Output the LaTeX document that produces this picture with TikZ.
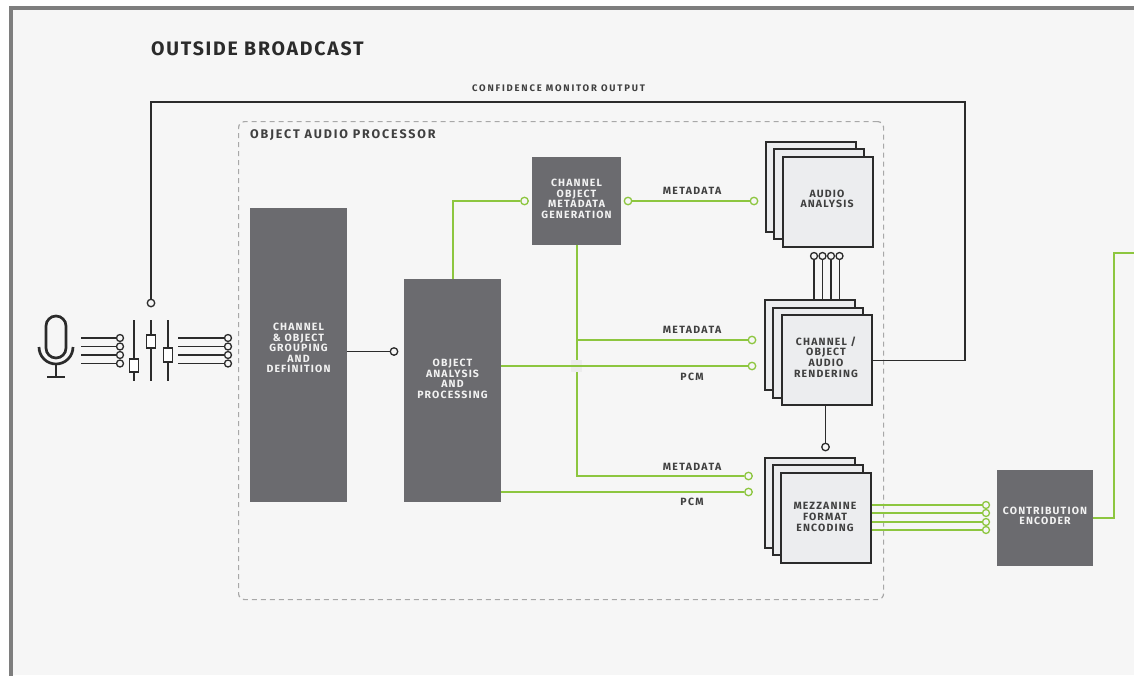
\documentclass[tikz,border=0pt]{standalone}
\usepackage{fontspec}
\setmainfont{Fira Sans}
\newfontfamily\lblfont{Fira Sans}[LetterSpace=11]
\newfontfamily\linefont{Fira Sans}[LetterSpace=13]
\newfontfamily\cmofont{Fira Sans}[LetterSpace=19]
\newfontfamily\ttlfont{Fira Sans}[LetterSpace=9]
\newfontfamily\oapfont{Fira Sans}[LetterSpace=15]
\definecolor{bggray}{HTML}{F6F6F6}
\definecolor{framegray}{HTML}{7E7E7E}
\definecolor{boxgray}{HTML}{6B6B6F}
\definecolor{stackfill}{HTML}{ECEDEF}
\definecolor{lime}{HTML}{8DC63F}
\definecolor{ink}{HTML}{2B2B2B}
\definecolor{dashgray}{HTML}{A8A8A8}
\definecolor{bridgegray}{HTML}{EDEDED}
\definecolor{whitetext}{HTML}{F2F2F2}
\begin{document}
\begin{tikzpicture}[x=1pt,y=-1pt,
  darkbox/.style={fill=boxgray, inner sep=0, anchor=north west},
  stackbox/.style={fill=stackfill, draw=ink, line width=2.4pt, inner sep=0, anchor=north west, minimum width=90pt, minimum height=90pt},
  wtext/.style={text=whitetext, font=\lblfont\bfseries\fontsize{10.5}{10.6}\selectfont, align=center, inner sep=0},
  dtext/.style={text=ink!90, font=\lblfont\bfseries\fontsize{10.5}{10.6}\selectfont, align=center, inner sep=0},
  linelabel/.style={text=ink!90, font=\linefont\bfseries\fontsize{10.5}{11}\selectfont, inner sep=0},
  gport/.style={circle, draw=lime, fill=bggray, line width=1.3pt, minimum size=7.5pt, inner sep=0},
  kport/.style={circle, draw=ink, fill=bggray, line width=1.3pt, minimum size=7.5pt, inner sep=0},
  gline/.style={draw=lime, line width=1.8pt},
  kline/.style={draw=ink, line width=1.4pt},
  iconline/.style={draw=ink, line width=2.7pt}
]
\useasboundingbox (0,0) rectangle (1134,675);
% background and frame
\fill[white] (0,0) rectangle (1134,675);
\fill[bggray] (11,8) rectangle (1134,675);
\draw[framegray, line width=3.5pt] (11,677) -- (11,8) -- (1136,8);

% titles
\node[anchor=west, text=ink, font=\ttlfont\bfseries\fontsize{19.5}{22}\selectfont, inner sep=0] (title) at (151,48.5) {OUTSIDE BROADCAST};
\node[text=ink!90, font=\cmofont\bfseries\fontsize{9.5}{10}\selectfont, inner sep=0] (cmolabel) at (558.5,88.5) {CONFIDENCE MONITOR OUTPUT};

% object audio processor frame
\node[draw=dashgray, dash pattern=on 5pt off 4pt, line width=1.2pt, rounded corners=6pt, minimum width=645pt, minimum height=478pt, inner sep=0, anchor=north west] (oapframe) at (238,121) {};
\node[anchor=west, text=ink!90, font=\oapfont\bfseries\fontsize{12.5}{14}\selectfont, inner sep=0] (oaplabel) at (250,135.5) {OBJECT AUDIO PROCESSOR};

% dark blocks
\node[darkbox, minimum width=97pt, minimum height=294pt] (grp) at (250,208) {};
\node[wtext] (grpT) at (298.5,348) {CHANNEL\\\& OBJECT\\GROUPING\\AND\\DEFINITION};
\node[darkbox, minimum width=97pt, minimum height=223pt] (oap) at (404,279) {};
\node[wtext] (oapT) at (452.5,379) {OBJECT\\ANALYSIS\\AND\\PROCESSING};
\node[darkbox, minimum width=89pt, minimum height=88pt] (cmg) at (532,157) {};
\node[wtext] (cmgT) at (576.5,199) {CHANNEL\\OBJECT\\METADATA\\GENERATION};
\node[darkbox, minimum width=96pt, minimum height=96pt] (enc) at (997,470) {};
\node[wtext] (encT) at (1045,516) {CONTRIBUTION\\ENCODER};

% stacked boxes
\node[stackbox] (aab) at (765,141) {};
\node[stackbox] (aam) at (773,148) {};
\node[stackbox] (aa) at (782,156) {};
\node[dtext] (aaT) at (827,199) {AUDIO\\ANALYSIS};
\node[stackbox] (renb) at (764,299) {};
\node[stackbox] (renm) at (772,307) {};
\node[stackbox] (ren) at (781,314) {};
\node[dtext] (renT) at (826,357) {CHANNEL /\\OBJECT\\AUDIO\\RENDERING};
\node[stackbox] (mezb) at (764,457) {};
\node[stackbox] (mezm) at (772,464) {};
\node[stackbox] (mez) at (780,472) {};
\node[dtext] (mezT) at (825,517) {MEZZANINE\\FORMAT\\ENCODING};

% microphone icon
\draw[iconline, rounded corners=10pt] (46,316) rectangle (66,358);
\draw[iconline] (39,347) .. controls (39,356.4) and (46.6,364) .. (56,364) .. controls (65.4,364) and (73,356.4) .. (73,347);
\draw[iconline] (56,364) -- (56,376);
\draw[iconline] (47,377) -- (65,377);

% fader icon
\draw[iconline] (134,320) -- (134,381);
\draw[iconline] (151,320) -- (151,381);
\draw[iconline] (168,320) -- (168,381);
\draw[draw=ink, line width=1.8pt, fill=white] (129.5,359) rectangle (138.5,372);
\draw[draw=ink, line width=1.8pt, fill=white] (146.5,335) rectangle (155.5,348);
\draw[draw=ink, line width=1.8pt, fill=white] (163.5,348) rectangle (172.5,362);

% mic -> fader lines
\foreach \i/\y in {1/338,2/346.5,3/355,4/363.5}{
  \coordinate (ms\i) at (81,\y);
  \node[kport, minimum size=7pt] (mp\i) at (120,\y) {};
  \draw[draw=ink, line width=1.2pt] (ms\i) -- (mp\i);
  \coordinate (fs\i) at (178,\y);
  \node[kport, minimum size=7pt] (fp\i) at (228,\y) {};
  \draw[draw=ink, line width=1.2pt] (fs\i) -- (fp\i);
}

% confidence monitor output
\node[kport] (ft) at (151,303) {};
\coordinate (cmA) at (965,102);
\draw[draw=ink, line width=1.3pt] (ft) |- (cmA) |- (ren.east);

% grouping -> analysis
\node[kport] (gc) at (394,351.5) {};
\draw[kline] (grp.east |- gc) -- (gc);

% green connectors
\node[gport] (cin) at (524.5,201) {};
\node[gport] (cout) at (628,201) {};
\node[gport] (m1) at (754,201) {};
\node[gport] (m2) at (752,340) {};
\node[gport] (p1) at (752,366) {};
\node[gport] (m3) at (748.5,476) {};
\node[gport] (p2) at (748.5,492) {};
\draw[gline] (oap.north) |- (cin);
\draw[gline] (cout) -- (m1);
\draw[gline] (cmg.south) |- (m3);
\coordinate (br) at (cmg.south |- m2);
\draw[gline] (br) -- (m2);
\fill[bridgegray] (570.5,360) rectangle (581.5,372);
\draw[gline] (oap.east |- p1) -- (p1);
\draw[gline] (oap.east |- p2) -- (p2);

\node[linelabel] (l1) at (692,191) {METADATA};
\node[linelabel] (l2) at (692,330) {METADATA};
\node[linelabel] (l3) at (692,376.5) {PCM};
\node[linelabel] (l4) at (692,467) {METADATA};
\node[linelabel] (l5) at (692,501.5) {PCM};

% analysis -> rendering
\foreach \i/\x in {1/814,2/822.5,3/831,4/839.5}{
  \node[kport, minimum size=7pt] (ac\i) at (\x,256) {};
  \draw[draw=ink, line width=1.3pt] (ac\i) -- (ac\i |- renb.north);
}

% rendering -> mezzanine
\node[kport] (rm) at (825.5,447) {};
\draw[draw=ink, line width=1.3pt] (ren.south -| rm) -- (rm);

% mezzanine -> contribution encoder
\foreach \i/\y in {1/505,2/513,3/522,4/530}{
  \node[gport, minimum size=7pt] (e\i) at (986,\y) {};
  \draw[gline, line width=1.6pt] (mez.east |- e\i) -- (e\i);
}

% encoder output
\coordinate (oc) at (1114,253);
\coordinate (oend) at (1136,253);
\draw[gline] (enc.east) -| (oc) -- (oend);
\end{tikzpicture}
\end{document}
